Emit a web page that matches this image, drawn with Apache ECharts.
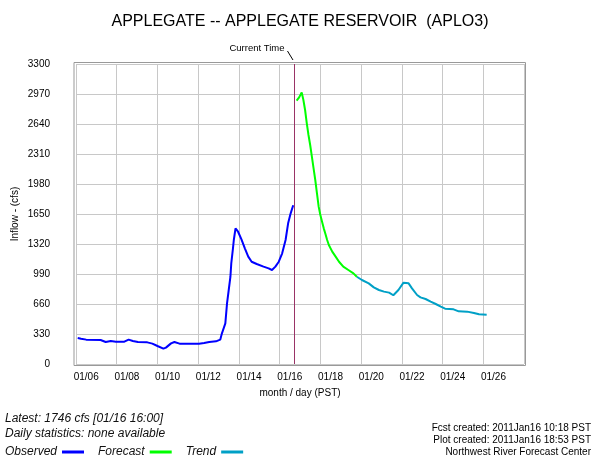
<!DOCTYPE html>
<html>
<head>
<meta charset="utf-8">
<script src="https://cdn.jsdelivr.net/npm/echarts@6/dist/echarts.min.js"></script>
<style>
html, body { margin: 0; padding: 0; background: #fff; }
#chart { width: 600px; height: 464px; }
</style>
</head>
<body>
<div id="chart"></div>
<script>
// readings, times PST (January 2011)
const observedTimes = ['01/06 02:00','01/06 06:00','01/06 12:00','01/07 05:00','01/07 11:00','01/07 17:00','01/07 23:00','01/08 09:00','01/08 14:00','01/08 19:00',
  '01/09 01:00','01/09 12:00','01/09 18:00','01/10 00:00','01/10 07:00','01/10 10:00','01/10 16:00','01/10 20:00','01/11 02:00','01/12 01:00',
  '01/12 07:00','01/12 13:00','01/12 21:00','01/13 02:00','01/13 04:00','01/13 08:00','01/13 10:00','01/13 12:00','01/13 14:00','01/13 15:00',
  '01/13 17:00','01/13 18:00','01/13 20:00','01/13 23:00','01/14 03:00','01/14 07:00','01/14 11:00','01/14 15:00','01/14 21:00','01/15 05:00',
  '01/15 11:00','01/15 15:00','01/15 19:00','01/15 23:00','01/16 03:00','01/16 07:00','01/16 10:00','01/16 13:00','01/16 16:00'];
const observedValues = [286,278,268,264,242,253,246,246,268,253,
  242,238,224,198,169,180,227,242,224,224,
  231,242,249,268,337,447,667,814,960,1107,
  1272,1364,1492,1455,1371,1272,1181,1125,1100,1071,
  1052,1034,1071,1125,1217,1364,1547,1657,1746];

const forecastTimes = ['01/16 20:00','01/16 23:00','01/17 02:00','01/17 04:00','01/17 06:00','01/17 08:00','01/17 10:00','01/17 12:00','01/17 14:00','01/17 16:00',
  '01/17 18:00','01/17 20:00','01/17 22:00','01/18 00:00','01/18 02:00','01/18 04:00','01/18 06:00','01/18 08:00','01/18 10:00','01/18 14:00',
  '01/18 18:00','01/18 22:00','01/19 03:00','01/19 09:00','01/19 15:00','01/19 19:00'];
const forecastValues = [2896,2933,2988,2904,2794,2647,2519,2409,2281,2153,
  2024,1877,1731,1639,1566,1492,1430,1364,1309,1236,
  1181,1125,1071,1034,997,960];

const trendTimes = ['01/19 19:00','01/20 01:00','01/20 09:00','01/20 15:00','01/20 21:00','01/21 03:00','01/21 09:00','01/21 14:00','01/21 20:00','01/22 02:00',
  '01/22 08:00','01/22 12:00','01/22 18:00','01/22 22:00','01/23 04:00','01/23 10:00','01/23 16:00','01/23 22:00','01/24 03:00','01/24 13:00',
  '01/24 19:00','01/25 05:00','01/25 13:00','01/25 19:00','01/26 04:00'];
const trendValues = [960,924,887,843,814,796,785,756,814,895,
  887,832,759,733,715,686,660,631,609,601,
  579,576,561,547,543];

const xTickLabels = ['01/06','01/08','01/10','01/12','01/14','01/16','01/18','01/20','01/22','01/24','01/26'];
const currentTime = '01/16 17:30';

const GRID = { left: 76, top: 64, width: 448, height: 300 };
const FONT = '"Liberation Sans", Arial, sans-serif';

// days since 01/06 00:00
function toDays(s) {
  const [md, hm] = s.split(' ');
  const day = +md.split('/')[1];
  const [h, m] = hm.split(':').map(Number);
  return day - 6 + h / 24 + m / 1440;
}
const pairs = (ts, vs) => ts.map((t, i) => [toDays(t), vs[i]]);

const labelDays = xTickLabels.map(l => toDays(l + ' 12:00'));
const nowT = toDays(currentTime);

const chart = echarts.init(document.getElementById('chart'));

chart.setOption({
  animation: false,
  textStyle: { fontFamily: FONT },
  title: {
    text: 'APPLEGATE -- APPLEGATE RESERVOIR  (APLO3)',
    left: 'center', top: 9,
    textStyle: { fontFamily: FONT, fontSize: 16, fontWeight: 'normal', color: '#000' }
  },
  grid: {
    left: GRID.left, top: GRID.top, width: GRID.width, height: GRID.height,
    containLabel: false, outerBoundsMode: 'none'
  },
  xAxis: {
    type: 'value', min: 0, max: 22, interval: 2,
    name: 'month / day (PST)', nameLocation: 'middle', nameGap: 24, nameMoveOverlap: false,
    nameTextStyle: { fontSize: 10, color: '#000' },
    axisLine: { show: false }, axisTick: { show: false },
    splitLine: { lineStyle: { color: '#c8c8c8', width: 1 } },
    axisLabel: {
      customValues: labelDays, margin: 8, fontSize: 10, color: '#000',
      formatter: v => xTickLabels[labelDays.findIndex(d => Math.abs(d - v) < 0.01)] || ''
    }
  },
  yAxis: {
    type: 'value', min: 0, max: 3300, interval: 330,
    name: 'Inflow - (cfs)', nameLocation: 'middle', nameGap: 56, nameMoveOverlap: false,
    nameTextStyle: { fontSize: 10, color: '#000' },
    axisLine: { show: false }, axisTick: { show: false },
    splitLine: { lineStyle: { color: '#c8c8c8', width: 1 } },
    axisLabel: { margin: 26, fontSize: 10, color: '#000', formatter: v => String(v) }
  },
  legend: {
    left: 5, top: 446, padding: 0, align: 'right', orient: 'horizontal',
    itemWidth: 22, itemHeight: 3, itemGap: 14, icon: 'rect',
    textStyle: { fontFamily: FONT, fontSize: 12, fontStyle: 'italic', color: '#111' },
    data: ['Observed', 'Forecast', 'Trend']
  },
  series: [
    {
      name: 'Trend', type: 'line', data: pairs(trendTimes, trendValues),
      showSymbol: false, color: '#00a0c6', lineStyle: { width: 2, color: '#00a0c6' }
    },
    {
      name: 'Forecast', type: 'line', data: pairs(forecastTimes, forecastValues),
      showSymbol: false, color: '#00ff00', lineStyle: { width: 2, color: '#00ff00' }
    },
    {
      name: 'Observed', type: 'line', data: pairs(observedTimes, observedValues),
      showSymbol: false, color: '#0000ff', lineStyle: { width: 2, color: '#0000ff' },
      markLine: {
        silent: true, symbol: 'none', label: { show: false },
        lineStyle: { color: '#993366', width: 1, type: 'solid' },
        data: [{ xAxis: nowT }]
      }
    }
  ]
});

const px = chart.convertToPixel({ xAxisIndex: 0 }, nowT);
chart.setOption({
  graphic: [
    { type: 'rect', silent: true, z: -1,
      shape: { x: GRID.left - 2, y: GRID.top - 1.5, width: GRID.width + 3.5, height: GRID.height + 3 },
      style: { fill: 'none', stroke: '#999', lineWidth: 1 } },
    { type: 'text', x: px - 10, y: 48,
      style: { text: 'Current Time', font: '9.5px ' + FONT, fill: '#000', align: 'right', verticalAlign: 'middle' } },
    { type: 'line', shape: { x1: px - 7, y1: 51, x2: px - 1.5, y2: 60 },
      style: { stroke: '#000', lineWidth: 1 } },
    { type: 'text', x: 5, y: 419,
      style: { text: 'Latest: 1746 cfs [01/16 16:00]', font: 'italic 12px ' + FONT, fill: '#111', verticalAlign: 'middle' } },
    { type: 'text', x: 5, y: 434,
      style: { text: 'Daily statistics: none available', font: 'italic 12px ' + FONT, fill: '#111', verticalAlign: 'middle' } },
    { type: 'text', x: 591, y: 428,
      style: { text: 'Fcst created: 2011Jan16 10:18 PST', font: '10px ' + FONT, fill: '#000', align: 'right', verticalAlign: 'middle' } },
    { type: 'text', x: 591, y: 440,
      style: { text: 'Plot created: 2011Jan16 18:53 PST', font: '10px ' + FONT, fill: '#000', align: 'right', verticalAlign: 'middle' } },
    { type: 'text', x: 591, y: 452,
      style: { text: 'Northwest River Forecast Center', font: '10px ' + FONT, fill: '#000', align: 'right', verticalAlign: 'middle' } }
  ]
});
</script>
</body>
</html>
